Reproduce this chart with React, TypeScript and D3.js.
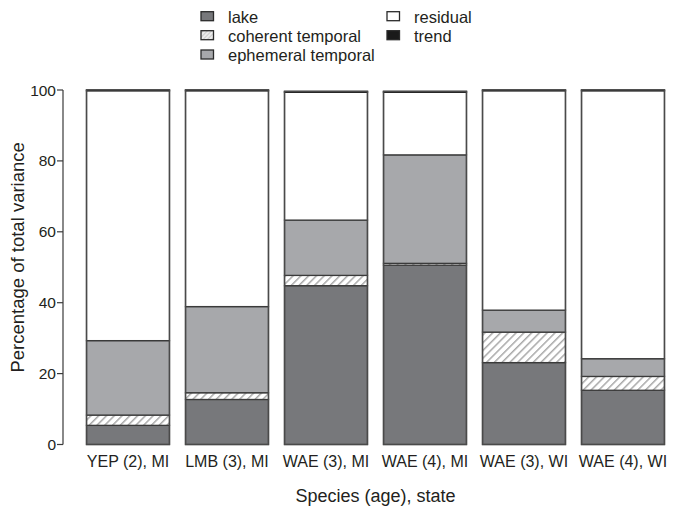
import React from "react";
import * as d3 from "d3";

const categories = ["YEP (2), MI", "LMB (3), MI", "WAE (3), MI", "WAE (4), MI", "WAE (3), WI", "WAE (4), WI"];
const lake = [5.4, 12.7, 44.8, 50.6, 23.1, 15.3];
const coherent = [2.9, 1.9, 2.9, 0.5, 8.6, 3.9];
const ephemeral = [21.0, 24.3, 15.6, 30.6, 6.2, 5.0];
const residual = [70.5, 60.9, 36.1, 17.7, 61.9, 75.6];
const trend = [0.2, 0.2, 0.2, 0.2, 0.2, 0.2];
const yTicks = [0, 20, 40, 60, 80, 100];

const keys = ["lake", "coherent", "ephemeral", "residual", "trend"];
const fills: Record<string, string> = {
  lake: "#77787b",
  coherent: "url(#hatch)",
  ephemeral: "#a7a8ab",
  residual: "#ffffff",
  trend: "#1a1a1a",
};
const legendItems = [
  { key: "lake", label: "lake", col: 0, row: 0 },
  { key: "coherent", label: "coherent temporal", col: 0, row: 1 },
  { key: "ephemeral", label: "ephemeral temporal", col: 0, row: 2 },
  { key: "residual", label: "residual", col: 1, row: 0 },
  { key: "trend", label: "trend", col: 1, row: 1 },
];

const FONT = "'Liberation Sans', Arial, Helvetica, sans-serif";

export default function App() {
  const rows = categories.map((c, i) => ({
    cat: c,
    lake: lake[i],
    coherent: coherent[i],
    ephemeral: ephemeral[i],
    residual: residual[i],
    trend: trend[i],
  }));
  const series = d3.stack<any>().keys(keys)(rows);

  const x = d3.scaleBand<string>().domain(categories).range([78.5, 672.5]).paddingInner(0.162).paddingOuter(0.081);
  const y = d3.scaleLinear().domain([0, 100]).range([444.5, 90]);

  const axisX = 63;
  const legendColX = [201, 387];
  const legendTextX = [228, 414];
  const legendRowY = [11.7, 30.7, 50];

  return (
    <svg width={673} height={508} style={{ position: "absolute", left: 0, top: 0, background: "#fff" }} fontFamily={FONT}>
      <defs>
        <pattern id="hatch" patternUnits="userSpaceOnUse" width={5.5} height={5.5} patternTransform="rotate(45)">
          <rect width={5.5} height={5.5} fill="#ffffff" />
          <line x1={0} y1={0} x2={0} y2={5.5} stroke="#a8a8a8" strokeWidth={3} />
        </pattern>
        <pattern id="hatchLegend" patternUnits="userSpaceOnUse" width={3} height={3} patternTransform="rotate(45)">
          <rect width={3} height={3} fill="#ececec" />
          <line x1={0} y1={0} x2={0} y2={3} stroke="#b5b5b5" strokeWidth={1.2} />
        </pattern>
      </defs>

      {/* legend */}
      {legendItems.map((it) => (
        <g key={it.key}>
          <rect
            x={legendColX[it.col]}
            y={legendRowY[it.row]}
            width={12.5}
            height={9}
            fill={it.key === "coherent" ? "url(#hatchLegend)" : fills[it.key]}
            stroke="#2a2a2a"
            strokeWidth={1.3}
          />
          <text x={legendTextX[it.col]} y={legendRowY[it.row] + 10.8} fontSize={16.5} fill="#231f20">
            {it.label}
          </text>
        </g>
      ))}

      {/* bars */}
      {series.map((s) => (
        <g key={s.key}>
          {s.map((d, i) => (
            <rect
              key={i}
              x={x(categories[i])!}
              y={y(d[1])}
              width={x.bandwidth()}
              height={Math.max(0, y(d[0]) - y(d[1]))}
              fill={fills[s.key]}
              stroke={s.key === "trend" ? "#1a1a1a" : "#3a3a3a"}
              strokeWidth={s.key === "trend" ? 1.4 : 1.3}
            />
          ))}
        </g>
      ))}
      {/* bar outlines */}
      {rows.map((r) => {
        const top = r.lake + r.coherent + r.ephemeral + r.residual + r.trend;
        return (
          <rect
            key={r.cat}
            x={x(r.cat)!}
            y={y(top)}
            width={x.bandwidth()}
            height={y(0) - y(top)}
            fill="none"
            stroke="#4a4a4a"
            strokeWidth={1.4}
          />
        );
      })}

      {/* y axis */}
      <line x1={axisX} x2={axisX} y1={y(0)} y2={y(100)} stroke="#3a3a3a" strokeWidth={1.2} />
      {yTicks.map((t) => (
        <g key={t}>
          <line x1={axisX - 6} x2={axisX} y1={y(t)} y2={y(t)} stroke="#3a3a3a" strokeWidth={1.2} />
          <text x={axisX - 7} y={y(t)} dy="0.36em" textAnchor="end" fontSize={15.5} fill="#231f20">
            {t}
          </text>
        </g>
      ))}
      <text
        transform={`translate(24, ${(141.7 + 373) / 2}) rotate(-90)`}
        textAnchor="middle"
        fontSize={18.5}
        fill="#231f20"
      >
        Percentage of total variance
      </text>

      {/* x labels */}
      {categories.map((c) => (
        <text key={c} x={x(c)! + x.bandwidth() / 2} y={467} textAnchor="middle" fontSize={16} fill="#231f20">
          {c}
        </text>
      ))}
      <text x={(x(categories[0])! + x(categories[5])! + x.bandwidth()) / 2} y={501.5} textAnchor="middle" fontSize={18} fill="#231f20">
        Species (age), state
      </text>
    </svg>
  );
}
